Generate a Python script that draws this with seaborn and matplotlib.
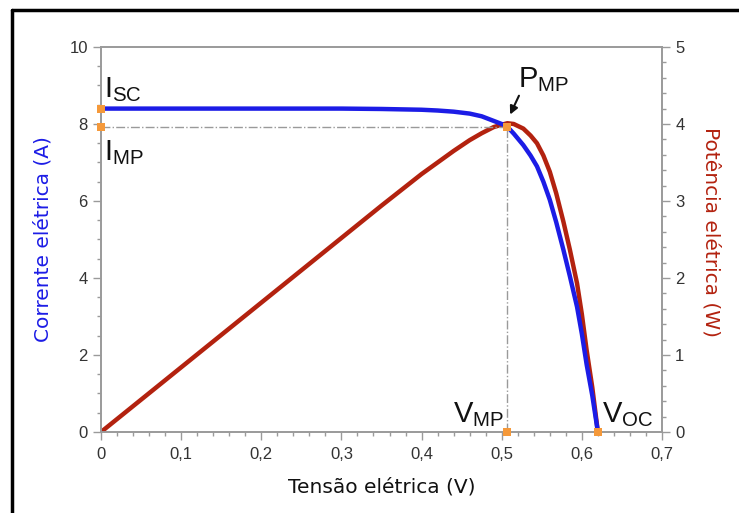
import matplotlib
matplotlib.use("Agg")
import matplotlib.pyplot as plt
from matplotlib.ticker import MultipleLocator, FuncFormatter
from matplotlib.lines import Line2D
import seaborn as sns
import pandas as pd

# curva I-V e P-V de uma celula solar
tensao = [0, 0.1, 0.2, 0.3, 0.35, 0.4, 0.42, 0.44, 0.46, 0.475, 0.49, 0.5, 0.507,
          0.515, 0.527, 0.536, 0.544, 0.552, 0.56, 0.568, 0.577, 0.585, 0.594,
          0.6, 0.606, 0.613, 0.62]
corrente = [8.40, 8.40, 8.40, 8.40, 8.39, 8.37, 8.35, 8.32, 8.27, 8.20, 8.08, 8.00, 7.93,
            7.75, 7.45, 7.18, 6.90, 6.50, 6.03, 5.45, 4.73, 4.05, 3.25,
            2.55, 1.75, 0.95, 0.0]
potencia = [0, 0.84, 1.68, 2.52, 2.94, 3.35, 3.50, 3.65, 3.79, 3.88, 3.96, 3.99, 4.01,
            4.00, 3.94, 3.85, 3.75, 3.59, 3.38, 3.10, 2.73, 2.37, 1.93,
            1.53, 1.06, 0.58, 0.0]

# pontos notaveis
isc, imp, vmp, voc = 8.40, 7.93, 0.507, 0.62

df = pd.DataFrame({"V": tensao, "I": corrente, "P": potencia})

sns.set_theme(style="white")
plt.rcParams["font.family"] = ["Liberation Sans", "DejaVu Sans"]
plt.rcParams["mathtext.fontset"] = "custom"
plt.rcParams["mathtext.rm"] = "Liberation Sans"

azul = "#1c1ce6"
vermelho = "#b3220f"
laranja = "#f5993a"
cinza = "#9a9a9a"

fig = plt.figure(figsize=(7.39, 5.13), dpi=100)
ax = fig.add_axes([0.1367, 0.1579, 0.7591, 0.7505])
ax2 = ax.twinx()

sns.lineplot(data=df, x="V", y="P", ax=ax2, color=vermelho, lw=3.2, sort=False)
sns.lineplot(data=df, x="V", y="I", ax=ax, color=azul, lw=3.2, sort=False)
ax.set_zorder(ax2.get_zorder() + 1)
ax.patch.set_visible(False)

# linhas tracejadas do ponto de maxima potencia
ax.plot([0, vmp], [imp, imp], ls="-.", color=cinza, lw=1)
ax.plot([vmp, vmp], [0, imp], ls="-.", color=cinza, lw=1)

# marcadores
ax.scatter([0, 0, vmp, vmp, voc], [isc, imp, imp, 0, 0], marker="s", s=30,
           color=laranja, zorder=5, clip_on=False, linewidths=0)

ax.set_xlim(0, 0.7)
ax.set_ylim(0, 10)
ax2.set_ylim(0, 5)

ax.xaxis.set_major_locator(MultipleLocator(0.1))
ax.xaxis.set_minor_locator(MultipleLocator(0.02))
ax.yaxis.set_major_locator(MultipleLocator(2))
ax.yaxis.set_minor_locator(MultipleLocator(0.5))
ax2.yaxis.set_major_locator(MultipleLocator(1))
ax2.yaxis.set_minor_locator(MultipleLocator(0.2))
ax.xaxis.set_major_formatter(FuncFormatter(lambda v, p: "0" if abs(v) < 1e-9 else f"{v:.1f}".replace(".", ",")))

for a in (ax, ax2):
    for s in a.spines.values():
        s.set_color(cinza)
        s.set_linewidth(1.2)
    a.tick_params(which="major", direction="out", length=6, width=1, color=cinza,
                  labelsize=12, labelcolor="#333333")
    a.tick_params(which="minor", direction="out", length=3, width=1, color=cinza)
ax.tick_params(axis="both", which="both", bottom=True, left=True)
ax.tick_params(axis="x", which="major", pad=5)
ax2.tick_params(axis="y", which="both", right=True)
ax.set_xlabel("Tensão elétrica (V)", fontsize=14.5, color="#111111", family="DejaVu Sans")
ax.set_ylabel("Corrente elétrica (A)", fontsize=14.5, color=azul, family="DejaVu Sans")
ax2.set_ylabel("Potência elétrica (W)", fontsize=14.5, color=vermelho, family="DejaVu Sans",
               rotation=270)
ax.xaxis.set_label_coords(0.5, -0.118)
ax.yaxis.set_label_coords(-0.086, 0.5)
ax2.yaxis.set_label_coords(1.105, 0.52)

# rotulos
tk = dict(fontsize=21, color="#111111")
ax.text(0.004, 8.7, r"$\mathregular{I_{SC}}$", ha="left", va="baseline", **tk)
ax.text(0.004, 7.05, r"$\mathregular{I_{MP}}$", ha="left", va="baseline", **tk)
ax.text(0.52, 8.95, r"$\mathregular{P_{MP}}$", ha="left", va="baseline", **tk)
ax.text(0.503, 0.25, r"$\mathregular{V_{MP}}$", ha="right", va="baseline", **tk)
ax.text(0.625, 0.25, r"$\mathregular{V_{OC}}$", ha="left", va="baseline", **tk)
ax.annotate("", xy=(0.509, 8.18), xytext=(0.523, 8.8),
            arrowprops=dict(arrowstyle="-|>", color="#111111", lw=1.5, mutation_scale=12))

# moldura preta
fig.add_artist(Line2D([12 / 739, 1], [1 - 10 / 513, 1 - 10 / 513], color="black", lw=2.5))
fig.add_artist(Line2D([12 / 739, 12 / 739], [0, 1 - 10 / 513], color="black", lw=2.5))

fig.savefig("out.png", dpi=100)
